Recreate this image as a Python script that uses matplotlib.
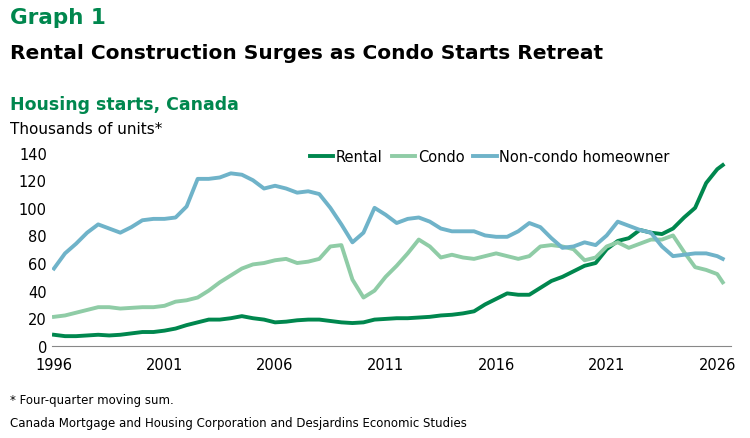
import numpy as np
import matplotlib.pyplot as plt

years = np.append(np.arange(1996, 2026.01, 0.5), 2026.25)
rental = [8, 7, 7, 7.5, 8, 7.5, 8, 9, 10, 10, 11, 12.5, 15, 17, 19, 19, 20, 21.5, 20, 19,
          17, 17.5, 18.5, 19, 19, 18, 17, 16.5, 17, 19, 19.5, 20, 20, 20.5, 21, 22, 22.5, 23.5,
          25, 30, 34, 38, 37, 37, 42, 47, 50, 54, 58, 60, 70, 76, 78, 84, 82, 81, 85, 93,
          100, 118, 128, 131]
condo = [21, 22, 24, 26, 28, 28, 27, 27.5, 28, 28, 29, 32, 33, 35, 40, 46, 51, 56, 59, 60,
         62, 63, 60, 61, 63, 72, 73, 48, 35, 40, 50, 58, 67, 77, 72, 64, 66, 64, 63, 65,
         67, 65, 63, 65, 72, 73, 72, 70, 62, 64, 72, 75, 71, 74, 77, 77, 80, 68, 57, 55,
         52, 46]
noncondo = [56, 67, 74, 82, 88, 85, 82, 86, 91, 92, 92, 93, 101, 121, 121, 122, 125, 124, 120, 114,
            116, 114, 111, 112, 110, 100, 88, 75, 82, 100, 95, 89, 92, 93, 90, 85, 83, 83, 83, 80,
            79, 79, 83, 89, 86, 78, 71, 72, 75, 73, 80, 90, 87, 84, 82, 72, 65, 66, 67, 67,
            65, 63]

green = '#00874e'
fig = plt.figure(figsize=(7.5, 4.39), dpi=100)
ax = fig.add_axes([0.069, 0.21, 0.905, 0.44])
ax.plot(years, rental, color=green, lw=2.8, label='Rental')
ax.plot(years, condo, color='#8fcca6', lw=2.8, label='Condo')
ax.plot(years, noncondo, color='#6fb3c9', lw=2.8, label='Non-condo homeowner')
ax.set_xlim(1995.9, 2026.6)
ax.set_ylim(0, 140)
ax.set_yticks(range(0, 141, 20))
ax.set_xticks([1996, 2001, 2006, 2011, 2016, 2021, 2026])
for s in ['top', 'right']:
    ax.spines[s].set_visible(False)
ax.spines['left'].set_visible(False)
ax.spines['bottom'].set_color('#888888')
ax.tick_params(axis='y', length=0, labelsize=10.5)
ax.tick_params(axis='x', length=0, labelsize=10.5, pad=8)
ax.legend(loc='upper right', bbox_to_anchor=(0.93, 1.085), ncol=3, frameon=False, fontsize=10.5,
          handlelength=1.6, handletextpad=0.2, columnspacing=0.6)

fig.text(0.013, 0.945, 'Graph 1', fontsize=15.5, fontweight='bold', color=green)
fig.text(0.013, 0.865, 'Rental Construction Surges as Condo Starts Retreat', fontsize=14.5, fontweight='bold')
fig.text(0.013, 0.75, 'Housing starts, Canada', fontsize=12.5, fontweight='bold', color=green)
fig.text(0.013, 0.695, 'Thousands of units*', fontsize=11)
fig.text(0.013, 0.08, '* Four-quarter moving sum.', fontsize=8.5)
fig.text(0.013, 0.028, 'Canada Mortgage and Housing Corporation and Desjardins Economic Studies', fontsize=8.5)
fig.savefig('out.png', dpi=100)
